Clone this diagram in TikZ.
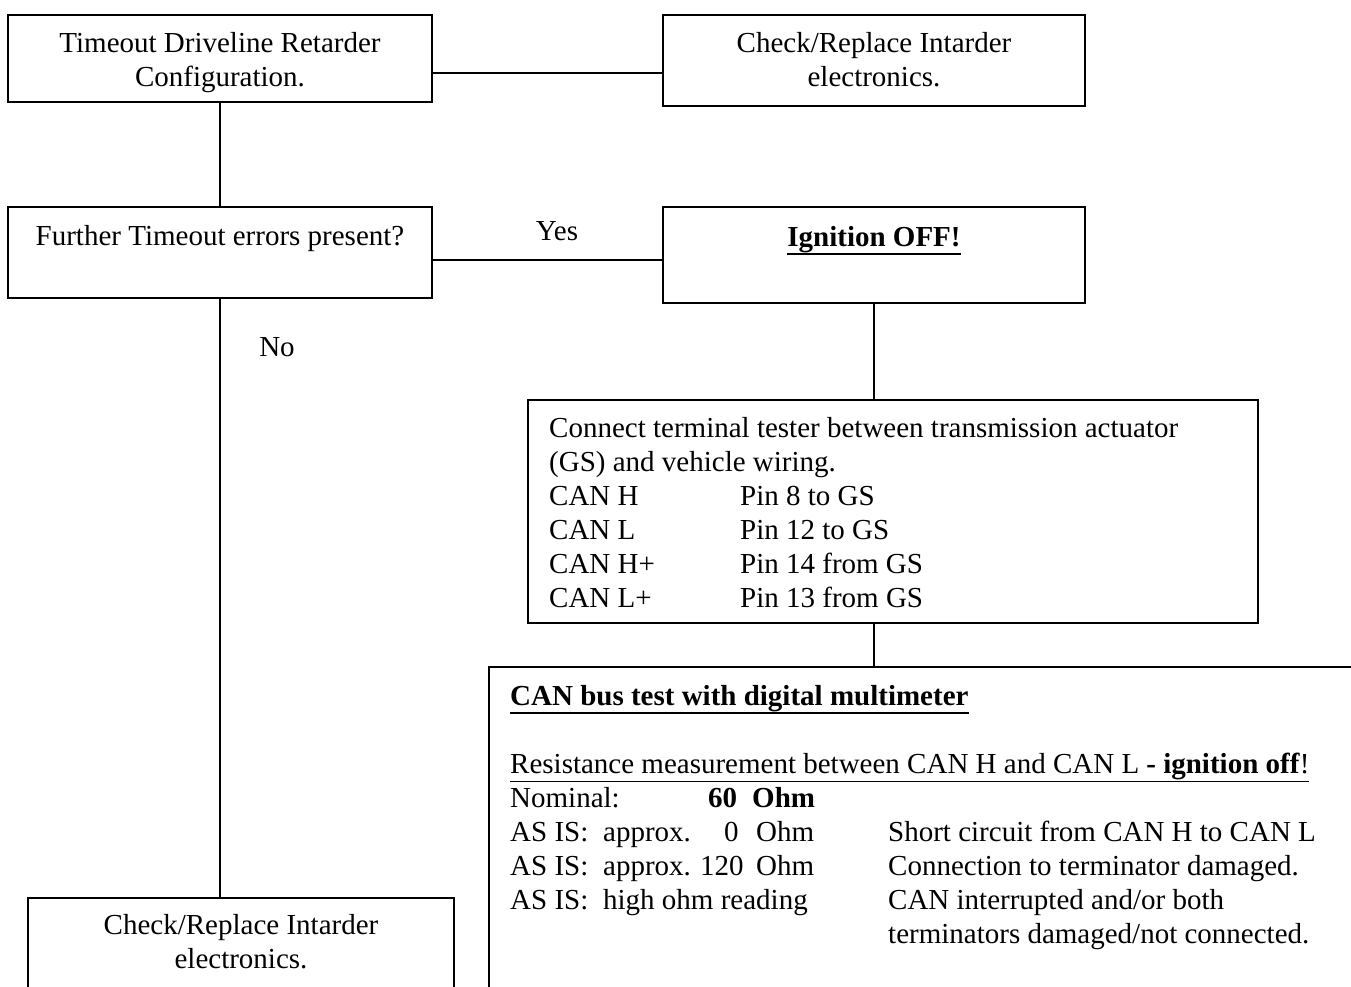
\documentclass[tikz,border=0pt]{standalone}
\usepackage{fontspec}
\setmainfont{Liberation Serif}
\newcommand{\putat}[2]{\makebox[0pt][l]{\hspace*{#1pt}#2}}
\newcommand{\thul}[1]{\leavevmode\setbox0\hbox{#1}\rlap{\rule[-\dimexpr\dp0+2.6pt\relax]{\wd0}{2pt}}\box0}
\begin{document}
\begin{tikzpicture}[x=1pt,y=-1pt,
  box/.style={draw, line width=1.6pt, inner sep=0pt},
  txt/.style={inner sep=0pt, font=\fontsize{29}{34}\selectfont},
  conn/.style={line width=1.6pt}]
\useasboundingbox (0,0) rectangle (1351,986);
\clip (0,0) rectangle (1351,986);
% boxes
\node[box, minimum width=424, minimum height=87] (A) at (220,58.5) {};
\node[box, minimum width=422, minimum height=91] (B) at (874,60.5) {};
\node[box, minimum width=424, minimum height=91] (C) at (220,252.5) {};
\node[box, minimum width=422, minimum height=96] (D) at (874,255) {};
\node[box, minimum width=730, minimum height=223] (E) at (893,511.5) {};
\node[box, minimum width=911, minimum height=383] (F) at (944.5,858.5) {};
\node[box, minimum width=426, minimum height=152] (G) at (241,974) {};
% connectors
\draw[conn] (A.east |- 0,73) -- (B.west |- 0,73);
\draw[conn] (A.south) -- (C.north);
\draw[conn] (C.east |- 0,260) -- (D.west |- 0,260);
\draw[conn] (D.south) -- (D.south |- E.north);
\draw[conn] (D.south |- E.south) -- (D.south |- F.north);
\draw[conn] (C.south) -- (C.south |- G.north);
% texts
\node[txt, anchor=base] (tA) at (220,52) {\begin{tabular}[t]{@{}c@{}}Timeout Driveline Retarder\\Configuration.\end{tabular}};
\node[txt, anchor=base] (tB) at (874,52) {\begin{tabular}[t]{@{}c@{}}Check/Replace Intarder\\electronics.\end{tabular}};
\node[txt, anchor=base] (tC) at (220,245) {Further Timeout errors present?};
\node[txt, anchor=base] (tD) at (874,246) {\thul{\textbf{Ignition OFF!}}};
\node[txt, anchor=base] (yes) at (557,240) {Yes};
\node[txt, anchor=base] (no) at (277,356) {No};
\node[txt, anchor=base west] (tE) at (549,437) {\begin{tabular}[t]{@{}l@{}}
Connect terminal tester between transmission actuator\\
(GS) and vehicle wiring.\\
\makebox[191pt][l]{CAN H}Pin 8 to GS\\
\makebox[191pt][l]{CAN L}Pin 12 to GS\\
\makebox[191pt][l]{CAN H+}Pin 14 from GS\\
\makebox[191pt][l]{CAN L+}Pin 13 from GS
\end{tabular}};
\node[txt, anchor=base west] (tF) at (510,705) {\begin{tabular}[t]{@{}l@{}}
\thul{\textbf{CAN bus test with digital multimeter}}\\
\\
\underline{Resistance measurement between CAN H and CAN L \textbf{- ignition off}!}\\
\putat{0}{Nominal:}\putat{198}{\textbf{60}}\putat{242}{\textbf{Ohm}}\\
\putat{0}{AS IS:}\putat{93}{approx.}\putat{214}{0}\putat{246}{Ohm}\putat{378}{Short circuit from CAN H to CAN L}\\
\putat{0}{AS IS:}\putat{93}{approx.}\putat{190}{120}\putat{246}{Ohm}\putat{378}{Connection to terminator damaged.}\\
\putat{0}{AS IS:}\putat{93}{high ohm reading}\putat{378}{CAN interrupted and/or both}\\
\putat{378}{terminators damaged/not connected.}
\end{tabular}};
\node[txt, anchor=base] (tG) at (241,934) {\begin{tabular}[t]{@{}c@{}}Check/Replace Intarder\\electronics.\end{tabular}};
\end{tikzpicture}
\end{document}
